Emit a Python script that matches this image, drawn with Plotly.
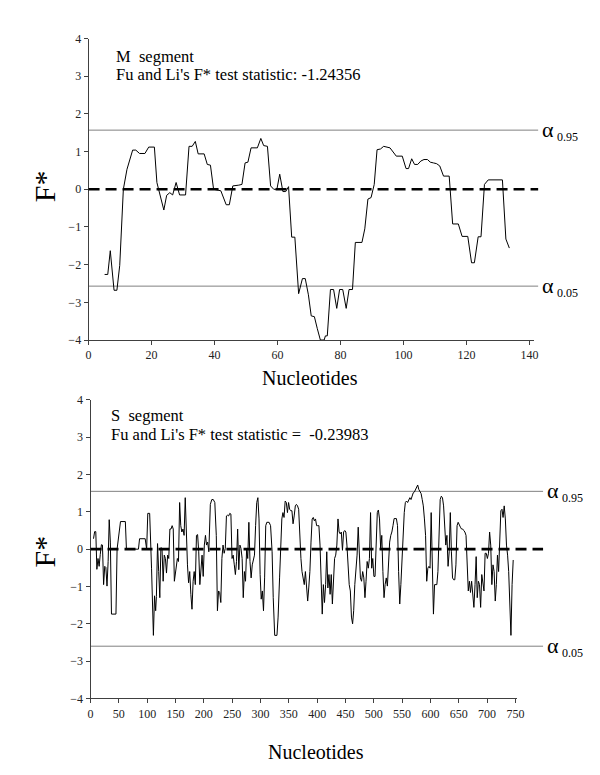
import plotly.graph_objects as go

# ---------------- data ----------------
m_pos = [5.1, 6.1, 6.9, 8.1, 9.0, 9.9, 11.05, 12.2, 14.0, 15.0, 16.2, 17.9, 19.1, 20.9, 21.7, 22.7,
         23.9, 24.8, 25.8, 26.7, 27.8, 28.9, 30.8, 31.9, 32.9, 33.9, 34.8, 36.7, 37.7, 38.7, 39.7,
         42.0, 42.8, 43.7, 44.7, 45.8, 47.7, 48.7, 49.7, 50.6, 51.6, 53.6, 54.7, 55.6, 56.8, 57.8,
         58.8, 59.8, 60.7, 61.7, 62.6, 63.5, 64.5, 65.5, 66.7, 67.9, 68.8, 69.8, 70.7, 71.7, 72.6,
         73.6, 74.8, 75.2, 75.8, 76.8, 77.8, 78.8, 79.7, 80.7, 81.8, 82.7, 83.8, 84.7, 86.8, 87.7,
         88.7, 89.7, 90.7, 91.6, 92.7, 93.7, 95.7, 96.6, 97.7, 99.6, 100.8, 101.6, 102.6, 103.5,
         104.5, 105.5, 106.5, 107.6, 108.5, 109.5, 110.5, 111.5, 112.7, 114.5, 115.6, 117.4, 118.6,
         120.4, 121.6, 122.5, 123.7, 124.6, 125.7, 126.9, 131.4, 132.5, 133.6]
m_fstar = [-2.26, -2.26, -1.63, -2.68, -2.68, -2.02, 0.0, 0.53, 1.04, 1.04, 0.95, 0.95, 1.12, 1.12,
           0.18, -0.13, -0.55, -0.16, -0.09, -0.15, 0.18, -0.15, -0.15, 1.14, 1.14, 1.27, 0.94, 0.94,
           0.66, 0.64, 0.0, -0.04, -0.22, -0.41, -0.41, 0.09, 0.11, 0.13, 0.70, 0.72, 1.10, 1.10, 1.35,
           1.16, 1.14, 0.09, 0.0, 0.0, 0.40, -0.06, -0.06, 0.07, -1.27, -1.27, -2.77, -2.37, -2.37,
           -2.80, -3.36, -3.38, -3.69, -4.0, -4.0, -3.89, -3.89, -2.66, -2.66, -3.16, -2.66, -2.66,
           -3.16, -2.66, -2.66, -1.41, -1.41, -1.05, -0.26, -0.22, 0.13, 1.05, 1.07, 1.14, 1.10, 1.01,
           0.88, 0.88, 0.55, 0.55, 0.81, 0.66, 0.66, 0.75, 0.79, 0.79, 0.72, 0.70, 0.68, 0.62, 0.35,
           0.35, -0.92, -0.92, -1.25, -1.25, -1.95, -1.95, -1.26, -1.26, 0.13, 0.25, 0.25, -1.32, -1.56]

s_pos = [5.3, 7.3, 9.3, 11.2, 13.2, 15.2, 17.2, 19.2, 21.1, 23.1, 25.1, 27.1, 29.1, 31.1, 33.0, 35.0,
         37.0, 44.9, 46.9, 52.9, 61.5, 63.4, 84.6, 86.6, 96.5, 99.1, 101.1, 104.4, 107.7, 111.0, 113.0,
         115.0, 116.3, 118.3, 120.3, 122.3, 124.2, 126.2, 128.2, 130.2, 132.2, 134.1, 136.1, 138.1,
         140.1, 142.1, 144.1, 146.0, 148.0, 150.7, 153.3, 155.3, 157.3, 159.3, 161.2, 163.2, 165.2,
         167.2, 169.2, 171.1, 173.1, 175.1, 177.1, 179.1, 181.1, 183.0, 185.0, 187.0, 189.0, 191.0,
         193.0, 194.9, 196.9, 198.9, 200.9, 202.9, 204.8, 206.8, 208.8, 211.5, 214.1, 216.7, 219.4,
         222.0, 224.0, 226.0, 228.0, 230.0, 231.9, 233.9, 235.9, 237.9, 239.9, 241.9, 243.8, 245.8,
         247.8, 249.8, 251.8, 253.8, 255.7, 257.7, 259.7, 261.7, 263.7, 265.6, 267.6, 269.6, 271.6,
         273.6, 275.6, 277.5, 279.5, 281.5, 283.5, 285.5, 287.5, 289.4, 291.4, 293.4, 295.4, 297.4,
         299.4, 301.3, 303.3, 305.3, 307.3, 309.3, 311.2, 315.2, 317.8, 320.5, 322.5, 325.1, 329.1,
         331.1, 333.7, 335.7, 337.7, 339.6, 341.6, 343.6, 345.6, 347.6, 349.6, 351.5, 353.5, 355.5,
         357.5, 359.5, 361.5, 363.4, 365.4, 367.4, 369.4, 371.4, 373.3, 375.3, 377.3, 379.3, 381.3,
         383.3, 385.2, 387.2, 389.2, 391.2, 393.2, 395.1, 397.1, 399.1, 401.1, 403.1, 405.1, 407.0,
         409.0, 411.0, 413.0, 415.0, 417.0, 418.9, 420.9, 422.9, 424.9, 426.9, 428.9, 430.8, 432.8,
         434.8, 436.8, 438.8, 440.7, 442.7, 444.7, 446.7, 448.7, 450.7, 452.6, 454.6, 456.6, 458.6,
         460.6, 462.6, 464.5, 466.5, 468.5, 470.5, 472.5, 474.4, 476.4, 478.4, 480.4, 482.4, 484.4,
         486.3, 488.3, 490.3, 492.3, 494.3, 496.3, 498.2, 500.2, 502.2, 504.2, 506.2, 508.1, 510.1,
         512.1, 514.1, 516.1, 518.1, 520.0, 522.0, 524.0, 526.0, 528.0, 530.0, 531.9, 533.9, 535.9,
         539.9, 541.9, 543.8, 545.8, 547.8, 549.8, 551.8, 553.8, 555.7, 557.7, 559.7, 561.7, 563.7,
         565.7, 567.6, 569.6, 571.6, 573.6, 575.5, 577.5, 579.5, 581.5, 583.5, 585.5, 587.4, 589.4,
         591.4, 593.4, 595.4, 597.4, 599.3, 601.3, 603.3, 605.3, 607.3, 611.3, 613.2, 615.2, 617.2,
         619.2, 621.2, 623.2, 625.1, 627.1, 629.1, 631.1, 633.1, 635.1, 637.0, 639.0, 641.0, 643.0,
         645.0, 647.0, 648.9, 650.9, 652.9, 654.9, 656.9, 658.8, 660.8, 662.8, 664.8, 666.8, 668.8,
         670.7, 672.7, 674.7, 676.7, 678.7, 680.7, 682.6, 684.6, 686.6, 688.6, 690.6, 692.6, 694.5,
         696.5, 698.5, 700.5, 702.5, 704.4, 706.4, 708.4, 710.4, 712.4, 714.4, 716.3, 718.3, 720.3,
         722.3, 724.3, 726.3, 728.2, 730.2, 732.2, 734.2, 736.2, 738.1, 740.1, 742.1, 744.1, 746.1]
s_fstar = [0.28, 0.47, 0.47, -0.54, -0.25, -0.46, -0.14, 0.12, 0.11, -0.95, -0.46, -0.49, -0.99, -0.33,
           0.79, 0.19, -1.74, -1.74, 0.0, 0.74, 0.74, 0.0, 0.0, 0.28, 0.28, 0.0, 0.96, 0.96, -0.51,
           -2.31, -1.25, -1.65, -1.27, 0.15, -0.60, -1.30, 0.04, 0.02, -0.86, -0.16, -0.25, -0.64,
           -0.16, -0.25, 0.54, 0.54, 0.63, 0.54, -0.86, -0.60, -0.25, -0.33, 1.25, 0.63, 0.46, 0.54,
           0.37, 1.38, 0.32, -0.42, -0.90, -0.60, -1.21, -1.61, -0.86, -0.60, -0.95, 0.37, 0.39, -0.07,
           -0.95, -0.42, -0.16, -0.73, 0.11, 0.37, 0.11, 0.19, -0.07, 1.20, 1.33, 1.33, 1.25, 0.37,
           -1.65, -1.12, -1.16, -1.43, -0.25, 0.11, -0.11, 0.02, 0.89, 0.91, 0.89, 0.96, 0.94, -0.25,
           -0.16, -0.42, -0.68, -0.33, 0.54, -0.55, 0.11, 0.02, -0.25, -1.30, -0.60, -0.86, 0.02,
           -0.25, 0.72, -0.33, -0.77, -0.42, -0.29, -0.16, 0.63, 1.25, 1.38, 0.81, -0.68, -1.34,
           -1.12, -1.65, -0.77, 0.63, 0.72, 0.72, 0.63, -0.07, -1.30, -2.31, -2.31, -1.82, -0.77, 0.02,
           0.81, 0.98, 0.85, 1.29, 1.25, 0.98, 1.25, 1.07, 1.03, 1.03, 0.68, 0.89, 1.16, 1.20, 1.16,
           1.07, 0.11, -0.25, -0.60, -0.86, -0.95, -0.60, -0.95, -1.39, -1.04, -0.60, 0.19, 0.81, 0.85,
           0.76, 0.81, 0.63, 0.63, 0.63, 0.11, -0.60, -1.74, -0.95, -1.43, -0.95, -0.07, -1.04, -0.68,
           -1.21, -0.68, -1.47, -0.60, -0.25, -0.16, 0.11, 0.81, 0.46, 0.41, 0.46, -0.03, 0.46, 0.50,
           0.46, 0.11, -0.60, -0.95, -1.12, -1.82, -2.00, -1.65, -0.95, -0.60, -0.16, 0.59, -0.16,
           -0.77, -0.86, -0.60, -0.77, -1.30, -0.86, -0.33, -0.51, -0.25, 0.98, -0.51, -0.25, -0.73,
           -0.73, 0.02, 0.98, 1.05, 0.81, 0.02, 0.37, -0.60, -1.30, -0.95, -0.77, -0.99, -0.42, 0.19,
           0.37, 0.46, 0.63, 0.82, 0.82, 0.63, -0.60, -1.47, -0.95, -0.25, 0.63, 0.98, 1.25, 1.29,
           1.25, 1.33, 1.38, 1.33, 1.42, 1.51, 1.53, 1.60, 1.68, 1.72, 1.60, 1.56, 1.49, 1.33, 1.16,
           0.81, 0.37, -0.86, -0.51, -0.46, -0.51, 0.98, -0.07, -1.74, -0.95, -0.95, -0.60, 0.81,
           1.33, 1.42, 1.38, 1.16, 0.63, 0.11, 0.37, -0.46, -0.07, 0.98, -0.07, -0.77, -0.82, -0.82,
           -0.42, 0.63, 0.72, 0.63, 0.59, 0.54, 0.54, 0.50, 0.46, 0.37, -0.46, -1.12, -0.86, -1.16,
           -0.86, -1.16, -1.56, -0.95, -0.20, -1.30, -0.86, -0.95, -1.56, -0.68, -0.95, -1.12, -0.11,
           -0.11, -0.25, -0.11, 0.46, 0.11, -0.95, -0.42, -0.60, -1.39, -0.95, -0.16, -0.60, 0.19,
           1.03, 1.07, 0.85, 1.16, 0.81, 0.11, -0.16, -0.60, -1.39, -2.31, -0.95, -0.29]

m_thresholds = [1.57, -2.57]   # alpha 0.95, alpha 0.05 (M segment)
s_thresholds = [1.55, -2.60]   # alpha 0.95, alpha 0.05 (S segment)
alpha_labels = ["0.95", "0.05"]
m_ticks = [0, 20, 40, 60, 80, 100, 120, 140]
s_ticks = list(range(0, 751, 50))
y_ticks = [-4, -3, -2, -1, 0, 1, 2, 3, 4]
m_title = ["M  segment", "Fu and Li's F* test statistic: -1.24356"]
s_title = ["S  segment", "Fu and Li's F* test statistic =  -0.23983"]

# ---------------- layout helpers ----------------
W, H = 600, 775
FONT = "Liberation Serif, Times New Roman, serif"


def px(x):
    return x / W


def py(y):
    return 1 - y / H


panels = [
    dict(xa="x", ya="y", xdom=(79, 533), ydom=(24, 331), xr=[0, 141.5], ticks=m_ticks,
         pos=m_pos, val=m_fstar, thr=m_thresholds, line_end=537, title=m_title,
         title_x=105, title_y=(42, 61), ftitle_y=174, ntitle=(305, 370)),
    dict(xa="x2", ya="y2", xdom=(81, 515), ydom=(392, 696), xr=[0, 752], ticks=s_ticks,
         pos=s_pos, val=s_fstar, thr=s_thresholds, line_end=542, title=s_title,
         title_x=100, title_y=(408, 427), ftitle_y=546, ntitle=(311, 751)),
]

fig = go.Figure()
shapes = []
annotations = []
axis_common = dict(showgrid=False, zeroline=False, showline=True, linecolor="#404040",
                   linewidth=1, ticks="outside", ticklen=4, tickcolor="#404040", tickwidth=1,
                   tickfont=dict(family=FONT, size=12, color="#222"), fixedrange=True)

for i, p in enumerate(panels):
    fig.add_trace(go.Scatter(x=p["pos"], y=p["val"], mode="lines", xaxis=p["xa"], yaxis=p["ya"],
                             line=dict(color="black", width=1), showlegend=False,
                             hoverinfo="skip"))
    sfx = "" if i == 0 else "2"
    fig.layout["xaxis" + sfx] = dict(
        domain=[px(p["xdom"][0]), px(p["xdom"][1])], range=p["xr"], anchor=p["ya"],
        tickvals=p["ticks"], **axis_common)
    fig.layout["yaxis" + sfx] = dict(
        domain=[py(p["ydom"][1]), py(p["ydom"][0])], range=[-4, 4], anchor=p["xa"],
        tickvals=y_ticks, **axis_common)
    x0 = px(p["xdom"][0])
    x1 = px(p["line_end"])
    # zero line (dashed)
    shapes.append(dict(type="line", xref="paper", yref=p["ya"], x0=x0, x1=x1, y0=0, y1=0,
                       line=dict(color="black", width=2.6, dash="11px,6px"), layer="above"))
    for t, lab in zip(p["thr"], alpha_labels):
        shapes.append(dict(type="line", xref="paper", yref=p["ya"], x0=x0, x1=x1, y0=t, y1=t,
                           line=dict(color="#808080", width=1), layer="below"))
        annotations.append(dict(xref="paper", yref=p["ya"], x=px(p["line_end"] + 2), y=t,
                                text="α", showarrow=False, xanchor="left", yanchor="middle",
                                font=dict(family=FONT, size=22, color="black"), yshift=1))
        annotations.append(dict(xref="paper", yref=p["ya"], x=px(p["line_end"] + 17), y=t,
                                text=lab, showarrow=False, xanchor="left", yanchor="middle",
                                font=dict(family=FONT, size=12, color="black"), yshift=-7))
    for txt, yy in zip(p["title"], p["title_y"]):
        annotations.append(dict(xref="paper", yref="paper", x=px(p["title_x"]), y=py(yy),
                                text=txt, showarrow=False, xanchor="left", yanchor="middle",
                                font=dict(family=FONT, size=16.5, color="black")))
    annotations.append(dict(xref="paper", yref="paper", x=px(34), y=py(p["ftitle_y"]),
                            text="F*", textangle=-90, showarrow=False, xanchor="center",
                            yanchor="middle", font=dict(family=FONT, size=30, color="black")))
    annotations.append(dict(xref="paper", yref="paper", x=px(p["ntitle"][0]),
                            y=py(p["ntitle"][1]), text="Nucleotides", showarrow=False,
                            xanchor="center", yanchor="middle",
                            font=dict(family=FONT, size=20, color="black")))

fig.update_layout(width=W, height=H, margin=dict(l=0, r=0, t=0, b=0),
                  paper_bgcolor="white", plot_bgcolor="white", shapes=shapes,
                  annotations=annotations, showlegend=False)

fig.write_html("out.html")
